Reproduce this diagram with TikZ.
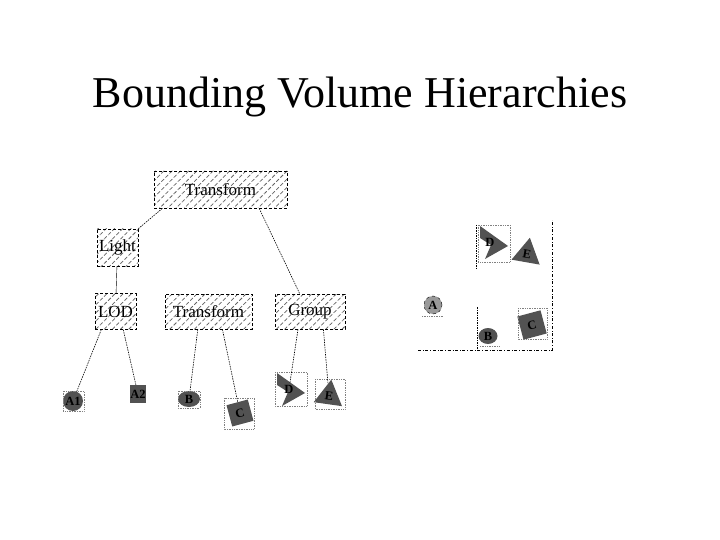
\documentclass[tikz,border=0pt]{standalone}
\usepackage{fontspec}
\setmainfont{Liberation Serif}
\usetikzlibrary{patterns.meta,shapes.geometric}
\definecolor{leafgray}{gray}{0.32}
\definecolor{boundgray}{gray}{0.6}

\begin{document}
\begin{tikzpicture}[x=1pt,y=-1pt,
  hbox/.style={draw, dash pattern=on 3pt off 2pt, line width=.6pt, pattern={Lines[angle=45,distance=5.8pt,line width=.75pt]}, pattern color=black!62, inner sep=0pt, font=\fontsize{17}{19}\selectfont},
  link/.style={dash pattern=on 1.5pt off 1pt, line width=.6pt},
  leaf/.style={fill=leafgray, inner sep=0pt, font=\bfseries\fontsize{12.5}{13}\selectfont},
  leaftext/.style={inner sep=1pt, font=\bfseries\fontsize{12.5}{13}\selectfont},
  bbox/.style={gray, densely dotted, line width=.7pt},
  frame/.style={dash dot, line width=.8pt}]
\useasboundingbox (0,0) rectangle (720,540);
\node (title) at (360,97) {\fontsize{44}{52}\selectfont Bounding Volume Hierarchies};

\node[hbox, minimum width=133pt, minimum height=37pt] (T) at (220.5,189.5) {Transform};
\node[hbox, minimum width=41pt, minimum height=37pt] (L) at (117.5,247.5) {Light};
\node[hbox, minimum width=41pt, minimum height=36pt] (LOD) at (115.5,311.5) {LOD};
\node[hbox, minimum width=87pt, minimum height=35pt] (T2) at (208.5,311.5) {Transform};
\node[hbox, minimum width=70pt, minimum height=35pt] (G) at (310,311.5) {Group};

\node[leaf, circle, minimum size=20pt] (A1) at (73,401) {A1};
\node[leaf, rectangle, minimum width=16pt, minimum height=18pt] (A2) at (138,394) {A2};
\node[leaf, ellipse, minimum width=22pt, minimum height=16pt] (B) at (189,399) {B};
\node[leaf, rectangle, minimum size=22pt, rotate=15] (C) at (240,413) {C};
\fill[leafgray] (277,373) -- (305,393) -- (282,406) -- (288,392) -- (277,385) -- cycle;
\node[leaftext] (D) at (289,389) {D};
\node[leaf, regular polygon, regular polygon sides=3, minimum size=33pt, rotate=-8] (E) at (329,396) {E};
\draw[bbox] (63,391) rectangle (84,411);
\draw[bbox] (178,391) rectangle (200,408);
\draw[bbox] (224,398) rectangle (254,429);
\draw[bbox] (275,372) rectangle (307,406);
\draw[bbox] (315,379) rectangle (345,409);

 \draw [link] (T.198)--(L.north east);
 \draw [link] (T.-26)--(G.120);
 \draw (L)--(LOD);
  \draw [link] (LOD.232)--(A1);
  \draw [link] (LOD.-67)--(A2);
  \draw [link] (T2.239)--(B);
  \draw [link] (T2.-52)--(C);
  \draw [link] (G.236)--(D);
  \draw [link] (G.-53)--(E);

\draw[frame] (418,350) -- (552,350) -- (552,220);
\draw[link] (476,225) -- (476,268);
\draw[link] (477,307) -- (477,350);
\fill[leafgray] (480,226) -- (508,246) -- (485,259) -- (491,245) -- (480,238) -- cycle;
\node[leaftext] (Dr) at (490,242) {D};
\draw[bbox] (478,225) rectangle (510,262);
\node[leaf, regular polygon, regular polygon sides=3, minimum size=33pt, rotate=-10] (Er) at (527,254) {E};
\node[leaf, circle, draw, dashed, fill=boundgray, minimum size=18pt] (Ar) at (433,305) {A};
\draw[bbox] (422,316) -- (443,316);
\node[leaf, ellipse, minimum width=19pt, minimum height=16pt] (Br) at (488,336) {B};
\draw[bbox] (480,346) -- (500,346);
\node[leaf, rectangle, minimum size=24pt, rotate=15] (Cr) at (532,325) {C};
\draw[bbox] (518,308) rectangle (547,339);
\end{tikzpicture}
\end{document}
